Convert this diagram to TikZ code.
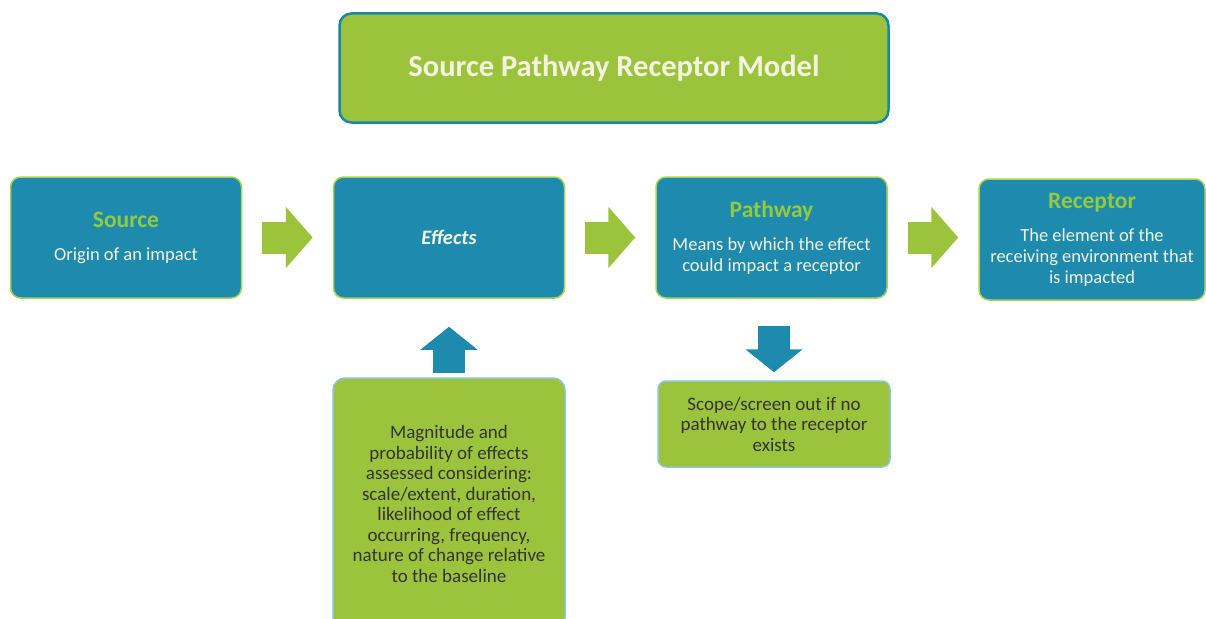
\documentclass[tikz,border=0pt]{standalone}
\usepackage{fontspec}
\setmainfont{Carlito}
\usetikzlibrary{positioning,arrows.meta}

\definecolor{boxblue}{HTML}{1E8BAE}
\definecolor{boxgreen}{HTML}{9BC43C}
\definecolor{headgreen}{HTML}{93CA3E}
\definecolor{rimgreen}{HTML}{AAD256}
\definecolor{rimblue}{HTML}{8CC6DA}
\definecolor{titlerim}{HTML}{1B86A6}
\definecolor{palecream}{HTML}{F3F3E0}
\definecolor{darktext}{HTML}{333333}

\newcommand{\hd}[1]{{\color{headgreen}\fontsize{23.5}{26}\selectfont\bfseries #1}}

\begin{document}
\begin{tikzpicture}[x=1pt, y=-1pt,
	b/.style={rectangle, rounded corners=10pt, inner sep=0pt, draw=rimgreen, line width=1.5pt, fill=boxblue, text=palecream, align=center, minimum width=231pt, minimum height=121pt, font=\fontsize{18.5}{21}\selectfont},
	g/.style={rectangle, rounded corners=12pt, inner sep=0pt, draw=rimblue, line width=1.5pt, fill=boxgreen, text=darktext, align=center, minimum width=232pt, font=\fontsize{19}{20.5}\selectfont},
	a/.style={draw=boxgreen, line width=32pt, -{Triangle[width=60pt, length=27pt]}, shorten <=20pt, shorten >=20pt},
	av/.style={draw=boxblue, line width=32pt, -{Triangle[width=56pt, length=23pt]}}]
	\useasboundingbox (0,0) rectangle (1206,618);

	\node[rectangle, rounded corners=12pt, draw=titlerim, line width=2.5pt, fill=boxgreen, minimum width=549pt, minimum height=109pt, text=palecream, font=\fontsize{30.5}{34}\selectfont\bfseries] (title) at (614,68) {Source Pathway Receptor Model};

	\node[b] (source) at (126,237.5) {\hd{Source}\\[12pt]Origin of an impact};
	\node[b, font=\fontsize{20.5}{24}\selectfont\bfseries\itshape] (effects) at (449,237.5) {Effects};
	\node[b] (pathway) at (771.5,237.5) {\hd{Pathway}\\[12pt]Means by which the effect\\could impact a receptor};
	\node[b, minimum width=226pt] (receptor) at (1092,239.5) {\hd{Receptor}\\[12pt]The element of the\\receiving environment that\\is impacted};

	\node[g, minimum height=252pt] (assess) at (449,504) {Magnitude and\\probability of effects\\assessed considering:\\scale/extent, duration,\\likelihood of effect\\occurring, frequency,\\nature of change relative\\to the baseline};
	\node[g, rounded corners=8pt, minimum height=86pt] (scope) at (774,424) {Scope/screen out if no\\pathway to the receptor\\exists};

	\draw[a] (source.east) -- (effects.west);
	\draw[a] (effects.east) -- (pathway.west);
	\draw[a] (pathway.east) -- (pathway.east -| receptor.west);
	\draw[av, shorten <=4pt, shorten >=28pt] (assess.north) -- (effects.south);
	\draw[av, shorten <=27pt, shorten >=8pt] (pathway.south -| scope.north) -- (scope.north);
\end{tikzpicture}
\end{document}
